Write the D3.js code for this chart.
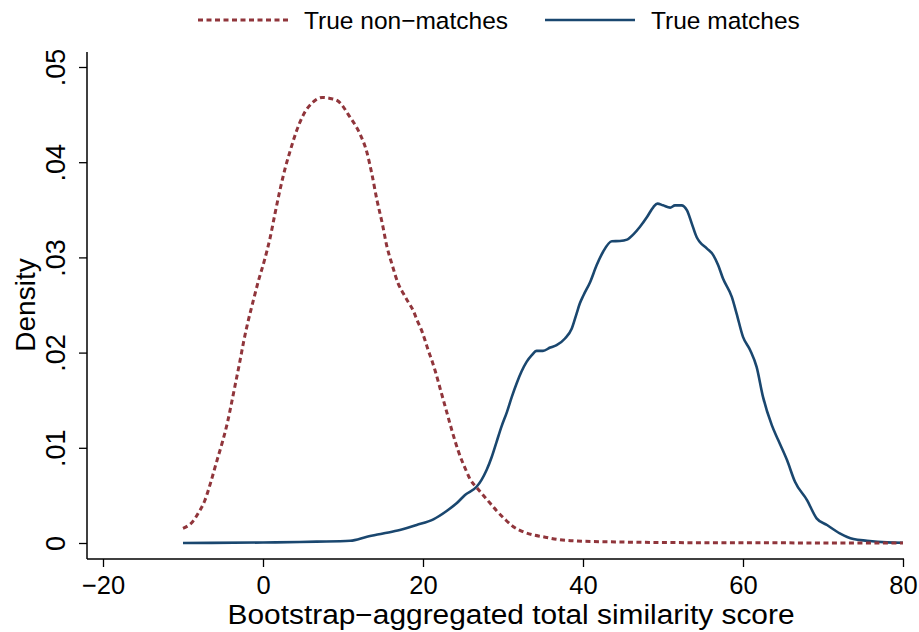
<!DOCTYPE html>
<html>
<head>
<meta charset="utf-8">
<script src="https://cdn.jsdelivr.net/npm/d3@7"></script>
<style>
  body { margin: 0; background: #fff; }
  text { font-family: "Liberation Sans", Arial, sans-serif; fill: #000; }
</style>
</head>
<body>
<div id="chart"></div>
<script>
const width = 919;
const height = 632;

// Kernel density of the total similarity score, true non-matches
const nonMatchX = [-10, -8.8, -8.1, -7.25, -6.6, -5.8, -5.1, -4.45, -3.9, -3.4, -2.9, -2.4, -1.85, -1.2, -0.55, 0.15,
    0.9, 1.5, 2.1, 2.75, 3.4, 4.2, 5, 6.25, 7.4, 8.4, 9.25, 10.9, 12.1, 13, 13.6, 14.25, 14.9, 15.5, 16.1, 16.9,
    17.55, 18.15, 18.8, 19.3, 19.85, 20.25, 20.65, 21.1, 21.5, 22.2, 22.9, 23.6, 24.4, 25.4, 25.9, 26.7, 27.5,
    28.4, 29.2, 30.25, 31.3, 32.5, 33.8, 35, 36.7, 39.2, 45, 50, 60, 70, 80];
const nonMatchY = [0.00154, 0.00224, 0.00312, 0.00451, 0.00619, 0.00853, 0.01053, 0.01263, 0.01484, 0.01693, 0.01903,
    0.02123, 0.02333, 0.0255, 0.0276, 0.0296, 0.0321, 0.0346, 0.037, 0.0393, 0.0412, 0.0433, 0.0449, 0.0463, 0.0468,
    0.0467, 0.0465, 0.0447, 0.043, 0.041, 0.0388, 0.036, 0.0336, 0.0311, 0.02935, 0.02725, 0.0262, 0.02532, 0.02438,
    0.02333, 0.02228, 0.0213, 0.02025, 0.0192, 0.01815, 0.01605, 0.01396, 0.01186, 0.00968, 0.00759, 0.00668,
    0.00584, 0.00504, 0.00417, 0.00339, 0.00249, 0.00171, 0.00119, 0.00084, 0.00066, 0.00039, 0.00021, 0.0001,
    0.00005, 0.00002, 0.00001, 0];

// True matches
const matchX = [-10, 0, 4.6, 6.7, 10.9, 13, 15, 17.1, 19.2, 21.3, 23, 24.2, 25.25, 26.7, 27.3, 27.95, 28.6, 29.2,
    29.8, 30.5, 31.1, 31.7, 32.3, 32.95, 33.6, 34.2, 35, 35.9, 36.7, 37.75, 38.6, 39.2, 39.6, 40.05, 40.9, 41.7,
    42.5, 43.6, 44.6, 45.5, 46.3, 47.1, 48, 48.8, 49.3, 50, 50.9, 51.5, 52.3, 53, 53.6, 54.2, 54.6, 55.5, 56.3,
    56.9, 57.5, 58.6, 59.2, 60, 60.9, 61.7, 62.5, 63.6, 64.4, 65.5, 66.5, 68, 69.2, 70.5, 72.1, 73.8, 75.5, 78, 80];
const matchY = [0, 0.00005, 0.0001, 0.00014, 0.00024, 0.00066, 0.001, 0.00136, 0.00189, 0.00249, 0.00339, 0.00417,
    0.00504, 0.00591, 0.00661, 0.00766, 0.00906, 0.01063, 0.0122, 0.01378, 0.01535, 0.01676, 0.01798, 0.01902,
    0.01973, 0.02018, 0.02018, 0.02053, 0.02078, 0.02148, 0.02253, 0.0241, 0.02515, 0.026, 0.02742, 0.02917,
    0.03057, 0.03169, 0.03172, 0.03187, 0.03242, 0.03319, 0.03424, 0.03529, 0.03565, 0.03547, 0.03523, 0.03547,
    0.03547, 0.03494, 0.03355, 0.03214, 0.03162, 0.03092, 0.03022, 0.02917, 0.02778, 0.02585, 0.0241, 0.02165,
    0.02025, 0.0185, 0.01535, 0.01238, 0.01081, 0.00871, 0.00643, 0.00451, 0.00259, 0.00189, 0.00102, 0.00042,
    0.00024, 0.00007, 0.00003];

const xTicks = [-20, 0, 20, 40, 60, 80];
const yTicks = [0, 0.01, 0.02, 0.03, 0.04, 0.05];
const yTickLabels = ["0", ".01", ".02", ".03", ".04", ".05"];

const seriesNames = ["True non\u2212matches", "True matches"];
const red = "#90353b";
const navy = "#1a476f";

const svg = d3.select("#chart")
    .append("svg")
    .attr("width", width)
    .attr("height", height);

const x = d3.scaleLinear().domain([-20, 80]).range([103, 903]);
const y = d3.scaleLinear().domain([0, 0.05]).range([543, 67]);

const axisLeft = 87;
const axisBottom = 559;

// axes
const xAxis = svg.append("g")
    .attr("transform", `translate(0,${axisBottom})`)
    .call(d3.axisBottom(x).tickValues(xTicks).tickSize(8)
        .tickFormat(d => d < 0 ? "\u2212" + Math.abs(d) : d));
xAxis.select(".domain").attr("d", `M${axisLeft},0H904`).attr("stroke-width", 1.5);
xAxis.selectAll("line").attr("stroke-width", 1.3);
xAxis.selectAll("text")
    .style("font-size", "25.5px")
    .attr("fill", "#000")
    .attr("y", 35)
    .attr("dy", null);

const yAxis = svg.append("g")
    .attr("transform", `translate(${axisLeft},0)`)
    .call(d3.axisLeft(y).tickValues(yTicks).tickSize(8)
        .tickFormat((d, i) => yTickLabels[i]));
yAxis.select(".domain").attr("d", `M0,52V${axisBottom}`).attr("stroke-width", 1.5);
yAxis.selectAll("line").attr("stroke-width", 1.3);
yAxis.selectAll("text")
    .style("font-size", "27px")
    .attr("fill", "#000")
    .attr("x", null)
    .attr("dy", null)
    .attr("text-anchor", "middle")
    .attr("transform", "translate(-22,0) rotate(-90)");

// axis titles
svg.append("text")
    .attr("x", 511)
    .attr("y", 624)
    .attr("text-anchor", "middle")
    .attr("textLength", 567)
    .attr("lengthAdjust", "spacingAndGlyphs")
    .style("font-size", "27px")
    .text("Bootstrap\u2212aggregated total similarity score");

svg.append("text")
    .attr("transform", "translate(35,305) rotate(-90)")
    .attr("text-anchor", "middle")
    .style("font-size", "28px")
    .text("Density");

// curves
const line = d3.line()
    .x(d => x(d[0]))
    .y(d => y(d[1]))
    .curve(d3.curveMonotoneX);

svg.append("path")
    .datum(matchX.map((v, i) => [v, matchY[i]]))
    .attr("fill", "none")
    .attr("stroke", navy)
    .attr("stroke-width", 2.6)
    .attr("d", line);

svg.append("path")
    .datum(nonMatchX.map((v, i) => [v, nonMatchY[i]]))
    .attr("fill", "none")
    .attr("stroke", red)
    .attr("stroke-width", 3)
    .attr("stroke-dasharray", "5,3.5")
    .attr("d", line);

// legend
const legend = svg.append("g");
legend.append("line")
    .attr("x1", 198).attr("x2", 289).attr("y1", 20).attr("y2", 20)
    .attr("stroke", red).attr("stroke-width", 3).attr("stroke-dasharray", "5,3.5");
legend.append("text")
    .attr("x", 304).attr("y", 29)
    .style("font-size", "24.5px")
    .text(seriesNames[0]);
legend.append("line")
    .attr("x1", 545).attr("x2", 635).attr("y1", 20).attr("y2", 20)
    .attr("stroke", navy).attr("stroke-width", 2.6);
legend.append("text")
    .attr("x", 651).attr("y", 29)
    .style("font-size", "24.5px")
    .text(seriesNames[1]);
</script>
</body>
</html>
